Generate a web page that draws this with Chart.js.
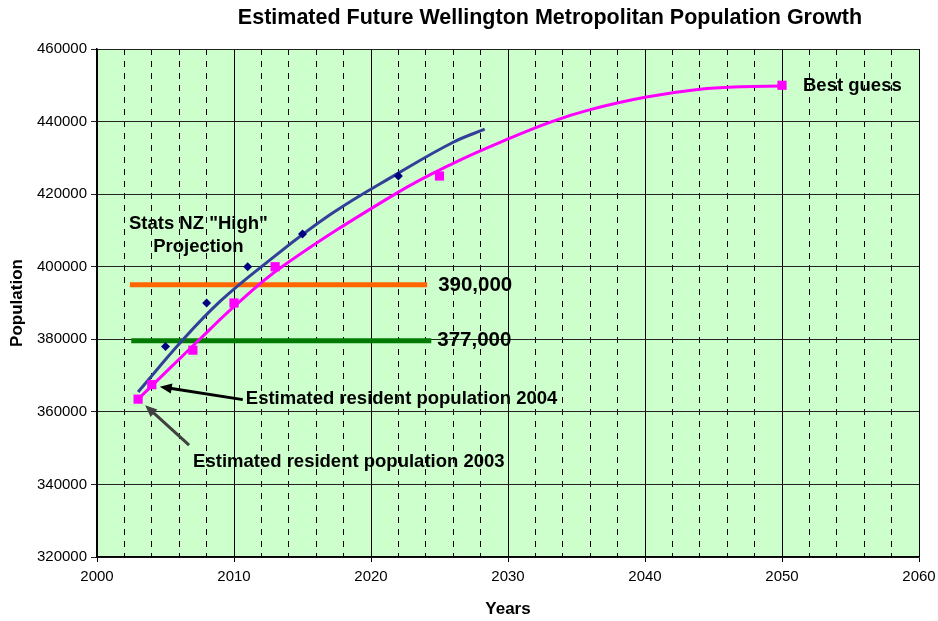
<!DOCTYPE html>
<html>
<head>
<meta charset="utf-8">
<script src="https://cdn.jsdelivr.net/npm/chart.js@4.4.1/dist/chart.umd.min.js"></script>
<style>
  html, body { margin: 0; padding: 0; background: #fff; }
</style>
</head>
<body>
<canvas id="chart" width="938" height="621"></canvas>
<script>
// Stats NZ "High" projection points and its trend line
const statsYears = [2005, 2008, 2011, 2015, 2022];
const statsPop = [378000, 390000, 400000, 409000, 425000];
const statsTrendYears = [2003, 2006.3, 2009, 2012, 2017, 2022, 2026, 2028.3];
const statsTrendPop = [365500, 380000, 390500, 400000, 414300, 425800, 434300, 437900];

// "Best guess" points and its trend line
const guessYears = [2003, 2004, 2007, 2010, 2013, 2025, 2050];
const guessPop = [363500, 367500, 377000, 390000, 400000, 425000, 450000];
const guessTrendYears = [2003, 2007.5, 2010, 2013.5, 2021.75, 2026, 2030, 2033.2, 2036, 2040, 2044, 2047, 2050];
const guessTrendPop = [363500, 380000, 389000, 400000, 420000, 428500, 435200, 440000, 443300, 446700, 448900, 449600, 449800];

// horizontal marker bars
const orangeYears = [2002.4, 2024.1];
const orangePop = [395000, 395000];
const greenYears = [2002.5, 2024.4];
const greenPop = [379600, 379600];

const yTicks = [320000, 340000, 360000, 380000, 400000, 420000, 440000, 460000];
const xTickLabels = [2000, 2010, 2020, 2030, 2040, 2050, 2060];

const FONT = '"Liberation Sans", Arial, sans-serif';

function pts(xs, ys) {
  return xs.map((v, i) => ({ x: v, y: ys[i] }));
}

function arrow(ctx, x1, y1, x2, y2, color) {
  const ang = Math.atan2(y2 - y1, x2 - x1);
  const head = 13;
  ctx.save();
  ctx.strokeStyle = color;
  ctx.fillStyle = color;
  ctx.lineWidth = 3;
  ctx.beginPath();
  ctx.moveTo(x1, y1);
  ctx.lineTo(x2 - Math.cos(ang) * head * 0.8, y2 - Math.sin(ang) * head * 0.8);
  ctx.stroke();
  ctx.beginPath();
  ctx.moveTo(x2, y2);
  ctx.lineTo(x2 - head * Math.cos(ang - 0.4), y2 - head * Math.sin(ang - 0.4));
  ctx.lineTo(x2 - head * Math.cos(ang + 0.4), y2 - head * Math.sin(ang + 0.4));
  ctx.closePath();
  ctx.fill();
  ctx.restore();
}

const notes = {
  id: 'notes',
  beforeDraw(chart) {
    const { ctx, chartArea: a } = chart;
    ctx.save();
    ctx.fillStyle = '#CCFFCC';
    ctx.fillRect(a.left, a.top, a.right - a.left, a.bottom - a.top);
    ctx.restore();
  },
  afterDatasetsDraw(chart) {
    const { ctx, scales: { x, y } } = chart;
    ctx.save();
    ctx.fillStyle = '#000';
    ctx.textBaseline = 'middle';

    ctx.font = 'bold 18.5px ' + FONT;
    ctx.textAlign = 'center';
    const sx = x.getPixelForValue(2007.4);
    const sy = y.getPixelForValue(411800);
    ctx.fillText('Stats NZ "High"', sx, sy);
    ctx.fillText('Projection', sx, sy + 23);

    ctx.textAlign = 'left';
    ctx.font = 'bold 20.5px ' + FONT;
    ctx.fillText('390,000', x.getPixelForValue(orangeYears[1]) + 11, y.getPixelForValue(orangePop[1]));
    ctx.fillText('377,000', x.getPixelForValue(greenYears[1]) + 6, y.getPixelForValue(greenPop[1]));

    ctx.font = 'bold 18.5px ' + FONT;
    const last = guessYears.length - 1;
    ctx.fillText('Best guess', x.getPixelForValue(guessYears[last]) + 21, y.getPixelForValue(guessPop[last]) + 1);

    const p4x = x.getPixelForValue(guessYears[1]);
    const p4y = y.getPixelForValue(guessPop[1]);
    ctx.fillText('Estimated resident population 2004', p4x + 94, p4y + 14);
    arrow(ctx, p4x + 91, p4y + 15, p4x + 8, p4y + 2, '#000');

    const p3x = x.getPixelForValue(guessYears[0]);
    const p3y = y.getPixelForValue(guessPop[0]);
    ctx.fillText('Estimated resident population 2003', p3x + 55, p3y + 63);
    arrow(ctx, p3x + 51, p3y + 46, p3x + 7, p3y + 6, '#404040');
    ctx.restore();
  },
  afterDraw(chart) {
    const { ctx } = chart;
    ctx.save();
    ctx.fillStyle = '#000';
    ctx.font = 'bold 21.5px ' + FONT;
    ctx.textAlign = 'center';
    ctx.textBaseline = 'middle';
    ctx.fillText('Estimated Future Wellington Metropolitan Population Growth', 550, 18);
    ctx.restore();
  }
};

new Chart(document.getElementById('chart'), {
  type: 'scatter',
  data: {
    datasets: [
      {
        label: 'Stats NZ points',
        data: pts(statsYears, statsPop),
        pointStyle: 'rectRot',
        pointRadius: 4.5,
        backgroundColor: '#000080',
        borderColor: '#000080',
        borderWidth: 0,
        showLine: false,
        order: 1
      },
      {
        label: 'Best guess points',
        data: pts(guessYears, guessPop),
        pointStyle: 'rect',
        pointRadius: 6.5,
        backgroundColor: '#FF00FF',
        borderColor: '#FF00FF',
        borderWidth: 0,
        showLine: false,
        order: 2
      },
      {
        label: 'Stats NZ trend',
        data: pts(statsTrendYears, statsTrendPop),
        showLine: true,
        borderColor: '#333F99',
        borderWidth: 3,
        pointRadius: 0,
        tension: 0.4,
        order: 3
      },
      {
        label: 'Best guess trend',
        data: pts(guessTrendYears, guessTrendPop),
        showLine: true,
        borderColor: '#FF00FF',
        borderWidth: 3,
        pointRadius: 0,
        tension: 0.4,
        order: 4
      },
      {
        label: '390,000',
        data: pts(orangeYears, orangePop),
        showLine: true,
        borderColor: '#FF6600',
        borderWidth: 5,
        pointRadius: 0,
        order: 5
      },
      {
        label: '377,000',
        data: pts(greenYears, greenPop),
        showLine: true,
        borderColor: '#007A00',
        borderWidth: 5,
        pointRadius: 0,
        order: 6
      }
    ]
  },
  options: {
    responsive: false,
    animation: false,
    layout: { padding: { left: 0, right: 19, top: 49, bottom: 0 } },
    plugins: {
      legend: { display: false },
      tooltip: { enabled: false }
    },
    scales: {
      x: {
        type: 'linear',
        min: 2000,
        max: 2060,
        afterFit: (s) => { s.height = 64; s.paddingRight = 0; s.paddingLeft = 0; },
        ticks: {
          stepSize: 2,
          autoSkip: false,
          maxRotation: 0,
          padding: 6,
          color: '#000',
          font: { family: FONT, size: 15 },
          callback: (v) => xTickLabels.includes(v) ? String(v) : ''
        },
        grid: {
          color: '#000',
          lineWidth: 1,
          tickLength: 5,
          tickColor: (c) => (c.tick && c.tick.value % 10 === 0) ? '#000' : 'rgba(0,0,0,0)'
        },
        border: {
          color: '#000',
          width: 1.5,
          dash: (c) => (c.tick && c.tick.value % 10 !== 0) ? [6, 6] : []
        },
        title: {
          display: true,
          text: 'Years',
          color: '#000',
          font: { family: FONT, size: 17, weight: 'bold' },
          padding: { top: 0, bottom: 1 }
        }
      },
      y: {
        min: 320000,
        max: 460000,
        afterFit: (s) => { s.width = 97; },
        afterBuildTicks: (s) => { s.ticks = yTicks.map(v => ({ value: v })); },
        ticks: {
          padding: 4,
          color: '#000',
          font: { family: FONT, size: 15 },
          callback: (v) => String(v)
        },
        grid: {
          color: '#222',
          lineWidth: 1,
          tickLength: 6
        },
        border: { color: '#000', width: 1.5 },
        title: {
          display: true,
          text: 'Population',
          color: '#000',
          font: { family: FONT, size: 17, weight: 'bold' },
          padding: 7
        }
      }
    }
  },
  plugins: [notes]
});
</script>
</body>
</html>
